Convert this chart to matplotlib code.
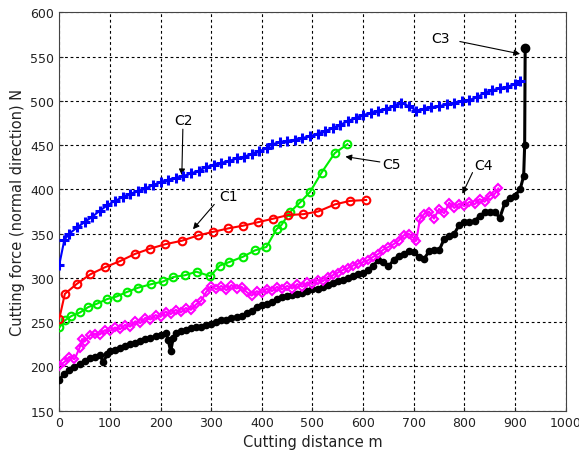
import matplotlib.pyplot as plt

# C1 (red circles)
c1_x = [0, 11, 34, 61, 90, 120, 149, 179, 209, 242, 274, 304, 334, 363, 393, 423, 452, 482, 511, 544, 574, 606]
c1_y = [254, 282, 293, 304, 312, 319, 327, 333, 338, 342, 348, 352, 356, 359, 363, 367, 371, 372, 375, 383, 387, 388]

# C2 (blue plus)
c2_x = [0, 10, 20, 35, 50, 65, 80, 95, 110, 125, 140, 155, 170, 185, 200, 215, 230, 245, 260, 275,
        290, 305, 320, 335, 350, 365, 380, 395, 410, 420, 435, 450, 465, 480, 495, 510, 525, 540, 555,
        570, 585, 600, 615, 630, 645, 660, 675, 690, 705, 720, 735, 750, 765, 780, 795, 810, 825, 840,
        855, 870, 885, 900, 910]
c2_y = [315, 343, 350, 357, 363, 369, 376, 382, 387, 391, 395, 398, 401, 405, 408, 411, 413, 415, 418, 421,
        425, 428, 430, 432, 435, 437, 440, 443, 447, 451, 453, 455, 456, 458, 460, 463, 466, 469, 473,
        477, 481, 484, 486, 489, 491, 494, 498, 494, 489, 491, 493, 494, 496, 498, 500, 501, 504, 509,
        512, 514, 516, 519, 522]

# C3 (black dots)
c3_x = [0, 10, 20, 30, 40, 50, 60, 70, 80, 87, 95, 100, 110, 120, 130, 140, 150, 160, 170, 180, 190,
        200, 210, 215, 220, 225, 230, 240, 250, 260, 270, 280, 290, 300, 310, 320, 330, 340, 350, 360,
        370, 380, 390, 400, 410, 420, 430, 440, 450, 460, 470, 480, 490, 500, 510, 520, 530, 540, 550,
        560, 570, 580, 590, 600, 610, 620, 630, 640, 650, 660, 670, 680, 690, 700, 710, 720, 730, 740,
        750, 760, 770, 780, 790, 800, 810, 820, 830, 840, 850, 860, 870, 880, 890, 900, 910, 917, 919, 920]
c3_y = [185, 192, 196, 199, 203, 206, 209, 211, 213, 205, 214, 217, 219, 221, 223, 225, 227, 229, 231, 232, 234,
        236, 238, 230, 217, 232, 238, 240, 241, 243, 244, 245, 247, 248, 250, 252, 253, 255, 256, 257,
        260, 263, 267, 269, 271, 273, 276, 278, 280, 281, 282, 283, 285, 287, 288, 290, 292, 294, 296,
        298, 300, 302, 304, 306, 309, 314, 320, 318, 313, 320, 325, 327, 330, 329, 324, 321, 330, 332,
        331, 344, 347, 350, 360, 363, 363, 364, 370, 374, 375, 374, 368, 385, 390, 393, 400, 415, 450, 560]

# C4 (magenta diamonds)
c4_x = [0, 10, 20, 30, 40, 45, 50, 60, 70, 80, 90, 100, 110, 120, 130, 140, 150, 160, 170, 180, 190,
        200, 210, 220, 230, 240, 250, 260, 270, 280, 290, 300, 310, 320, 330, 340, 350, 360, 370, 380,
        390, 400, 410, 420, 430, 440, 450, 460, 470, 480, 490, 500, 510, 520, 530, 540, 550, 560, 570,
        580, 590, 600, 610, 620, 630, 640, 650, 660, 670, 680, 690, 700, 705, 712, 720, 730, 740, 750,
        760, 770, 780, 790, 800, 810, 820, 830, 840, 850, 860, 867]
c4_y = [201, 205, 211, 208, 221, 231, 228, 235, 237, 236, 241, 240, 244, 242, 247, 245, 251, 249, 255, 253, 258,
        256, 262, 259, 264, 261, 266, 264, 270, 274, 284, 291, 287, 291, 286, 292, 288, 290, 284, 280,
        285, 283, 288, 285, 290, 287, 291, 288, 293, 290, 295, 293, 298, 296, 301, 303, 306, 309, 311,
        314, 316, 318, 320, 324, 327, 332, 335, 338, 342, 348, 350, 345, 342, 366, 372, 375, 367, 378,
        373, 385, 379, 384, 381, 386, 383, 389, 386, 393, 395, 401]

# C5 (green circles)
c5_x = [0, 11, 24, 41, 57, 75, 94, 113, 133, 156, 182, 205, 225, 248, 271, 298, 317, 336, 363, 386,
        409, 429, 439, 455, 475, 495, 518, 544, 569]
c5_y = [244, 252, 257, 261, 267, 271, 276, 279, 284, 289, 293, 296, 301, 303, 307, 302, 314, 318, 324, 331,
        335, 355, 360, 374, 385, 397, 419, 441, 451]

fig = plt.figure(figsize=(5.79, 4.56), dpi=100)
ax = fig.add_axes([0.1024, 0.0971, 0.8746, 0.8737])

ax.plot(c3_x, c3_y, color='black', lw=2.2, marker='o', ms=4.5, zorder=3)
ax.plot(c3_x[-1:], c3_y[-1:], color='black', marker='o', ms=6, zorder=3)
ax.plot(c4_x, c4_y, color='magenta', lw=1.5, marker='D', ms=4.5, mfc='none', mew=1.5, zorder=4)
ax.plot(c5_x, c5_y, color='#00ee00', lw=1.5, marker='o', ms=5.5, mfc='none', mew=1.5, zorder=5)
ax.plot(c1_x, c1_y, color='red', lw=1.5, marker='o', ms=5.5, mfc='none', mew=1.5, zorder=6)
ax.plot(c2_x, c2_y, color='blue', lw=1.5, marker='+', ms=6.5, mew=2.2, zorder=7)

arrow = dict(arrowstyle='-|>', color='black', lw=0.8, mutation_scale=9, shrinkA=0, shrinkB=0)
ax.annotate('', xy=(242, 416), xytext=(244, 468), arrowprops=arrow)
ax.text(246, 478, 'C2', ha='center', va='center', fontsize=10)
ax.annotate('', xy=(264, 355), xytext=(306, 383), arrowprops=arrow)
ax.text(334, 393, 'C1', ha='center', va='center', fontsize=10)
ax.annotate('', xy=(565, 437), xytext=(633, 431), arrowprops=arrow)
ax.text(656, 429, 'C5', ha='center', va='center', fontsize=10)
ax.annotate('', xy=(796, 395), xytext=(816, 419), arrowprops=arrow)
ax.text(837, 428, 'C4', ha='center', va='center', fontsize=10)
ax.annotate('', xy=(910, 553), xytext=(791, 567), arrowprops=arrow)
ax.text(752, 571, 'C3', ha='center', va='center', fontsize=10)

ax.set_xlim(0, 1000)
ax.set_ylim(150, 600)
ax.set_xticks(range(0, 1001, 100))
ax.set_yticks(range(150, 601, 50))
ax.grid(True, color='black', linestyle=(0, (2.5, 2.5)), linewidth=0.8)
ax.set_axisbelow(True)
ax.tick_params(direction='in', length=3, labelsize=9, colors='#222222')
for s in ax.spines.values():
    s.set_color('#444444')
ax.set_xlabel('Cutting distance m', fontsize=10.5, color='#222222')
ax.set_ylabel('Cutting force (normal direction) N', fontsize=10.5, color='#222222')

plt.savefig('out.png', dpi=100)
